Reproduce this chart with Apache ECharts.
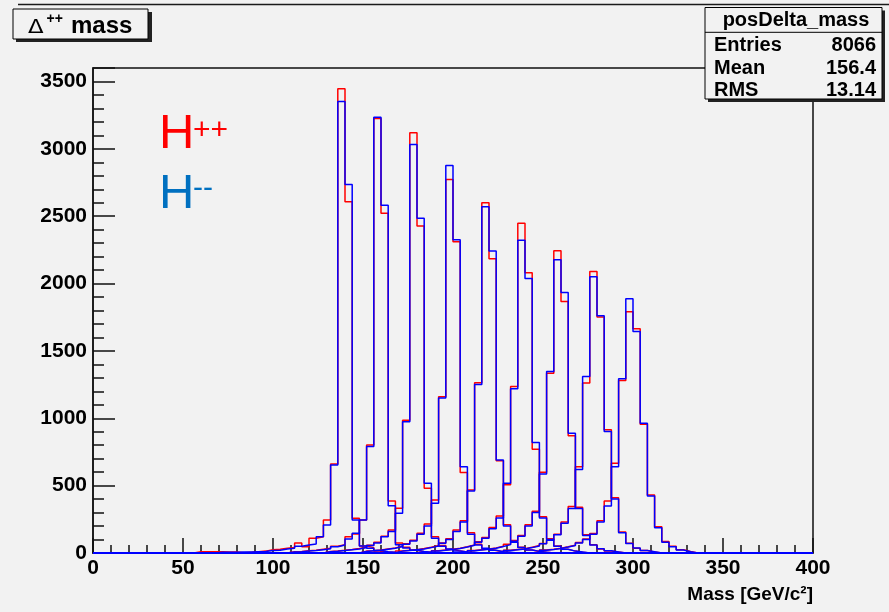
<!DOCTYPE html>
<html>
<head>
<meta charset="utf-8">
<script src="https://cdn.jsdelivr.net/npm/echarts@6/dist/echarts.min.js"></script>
<style>
html,body{margin:0;padding:0;background:#f2f2f2;}
#c{width:889px;height:612px;}
</style>
</head>
<body>
<div id="c"></div>
<script>
// ---- data (4 GeV bins, 0..400 GeV) ----
const binWidth = 4;
const xMin = 0, xMax = 400;
const xTickStep = 50;
const yTickStep = 500;
const masses = [140, 160, 180, 200, 220, 240, 260, 280, 300];
// low edge (GeV) of the first listed bin for each mass point
const redStart  = [56, 108, 128, 148, 168, 188, 208, 228, 248];
const blueStart = [68, 108, 128, 148, 168, 188, 208, 228, 248];

// H++ (red)
const red140 = [10,10,10,10,8,8,2,6,10,14,25,28,36,40,74,47,109,121,245,660,3446,2608,258,52,40,15,8,4,2];
const red160 = [10,12,16,20,28,35,50,62,121,141,245,802,3225,2521,386,75,42,20,10,5,2];
const red180 = [12,15,20,26,33,42,58,80,125,171,332,985,3119,2428,481,121,55,28,14,7,3];
const red200 = [14,17,22,30,38,50,68,95,146,215,394,1160,2772,2311,597,150,65,32,18,9,4];
const red220 = [15,20,25,33,42,55,75,105,170,240,468,1263,2599,2185,685,210,85,42,22,11,5];
const red240 = [16,22,28,36,47,60,84,115,190,275,506,1235,2447,2081,770,270,105,52,27,14,6];
const red260 = [18,24,30,38,50,65,92,130,210,310,600,1335,2244,1867,870,340,135,62,30,15,7];
const red280 = [20,26,32,42,55,70,100,140,230,345,640,1261,2090,1751,914,410,155,72,36,18,8];
const red300 = [22,28,36,46,58,78,104,145,240,386,667,1280,1791,1665,955,430,195,85,50,25,12];

// H-- (blue)
const blue140 = [5,6,6,8,8,10,12,18,20,30,35,50,59,67,121,208,654,3351,2735,245,52,35,18,10,5,2];
const blue160 = [8,10,14,18,25,32,47,60,104,146,245,790,3235,2581,350,62,38,20,12,6,3];
const blue180 = [10,13,18,24,30,40,55,75,120,160,295,975,3032,2484,518,109,50,30,15,8,4];
const blue200 = [12,16,20,28,35,48,65,90,140,200,370,1150,2876,2326,641,140,60,35,20,10,5];
const blue220 = [14,18,24,30,40,52,72,100,160,230,460,1250,2571,2242,691,200,80,40,22,12,6];
const blue240 = [15,20,26,34,45,58,80,110,180,260,518,1220,2321,2038,820,260,100,50,28,14,7];
const blue260 = [16,22,28,36,48,62,88,125,200,300,587,1347,2177,1934,888,330,130,60,32,16,8];
const blue280 = [18,24,30,40,52,68,95,135,220,330,620,1310,2051,1761,902,400,150,70,38,18,9];
const blue300 = [20,26,34,44,56,75,100,140,230,349,640,1293,1887,1645,964,424,188,79,47,22,10];

const redHists  = [red140, red160, red180, red200, red220, red240, red260, red280, red300];
const blueHists = [blue140, blue160, blue180, blue200, blue220, blue240, blue260, blue280, blue300];

const statTitle = 'posDelta_mass';
const statNames = ['Entries', 'Mean', 'RMS'];
const statValues = ['8066', '156.4', '13.14'];

// ---- build histogram outlines ----
function histData(start, vals) {
  const nBins = (xMax - xMin) / binWidth;
  const arr = new Array(nBins).fill(0);
  const i0 = Math.round((start - xMin) / binWidth);
  vals.forEach((v, j) => { if (i0 + j < nBins) arr[i0 + j] = v; });
  const pts = [];
  for (let i = 0; i < nBins; i++) pts.push([xMin + i * binWidth, arr[i]]);
  pts.push([xMax, arr[nBins - 1]]);
  return pts;
}

const series = [];
masses.forEach((m, i) => {
  series.push({
    name: 'H++ ' + m, type: 'line', step: 'end', showSymbol: false, symbol: 'none',
    data: histData(redStart[i], redHists[i]), z: 3,
    lineStyle: { color: '#ff0000', width: 1.5 }, animation: false
  });
});
masses.forEach((m, i) => {
  series.push({
    name: 'H-- ' + m, type: 'line', step: 'end', showSymbol: false, symbol: 'none',
    data: histData(blueStart[i], blueHists[i]), z: 4,
    lineStyle: { color: '#0000ff', width: 1.5 }, animation: false
  });
});

const FONT = '"Liberation Sans", Arial, Helvetica, sans-serif';
const axisCol = '#111';

const chart = echarts.init(document.getElementById('c'), null, { renderer: 'canvas' });
chart.setOption({
  backgroundColor: '#f2f2f2',
  animation: false,
  grid: { left: 93, right: 76, top: 68, bottom: 59, show: true, borderColor: axisCol, borderWidth: 1.5, backgroundColor: 'transparent' },
  xAxis: {
    type: 'value', min: xMin, max: xMax, interval: xTickStep,
    axisLine: { show: true, lineStyle: { color: axisCol, width: 1.5 } },
    axisTick: { show: true, inside: true, length: 15, lineStyle: { color: axisCol, width: 1.5 } },
    minorTick: { show: true, splitNumber: 5, length: 8, lineStyle: { color: axisCol, width: 1.5 } },
    splitLine: { show: false },
    axisLabel: { color: '#000', fontFamily: FONT, fontWeight: 'bold', fontSize: 21, margin: 5 }
  },
  yAxis: [{
    type: 'value', min: 0, max: 3600, interval: yTickStep,
    axisLine: { show: true, lineStyle: { color: axisCol, width: 1.5 } },
    axisTick: { show: true, inside: true, length: 22, lineStyle: { color: axisCol, width: 1.5 } },
    splitLine: { show: false },
    axisLabel: { color: '#000', fontFamily: FONT, fontWeight: 'bold', fontSize: 21, margin: 6,
      formatter: v => (v % yTickStep === 0 ? String(v) : '') }
  }, {
    type: 'value', min: 0, max: 3600, interval: 100, position: 'left',
    axisLine: { show: false },
    axisTick: { show: true, inside: true, length: 11, lineStyle: { color: axisCol, width: 1.5 } },
    splitLine: { show: false },
    axisLabel: { show: false }
  }],
  series: series,
  graphic: [
    { type: 'line', shape: { x1: 18, y1: 4.5, x2: 889, y2: 4.5 }, style: { stroke: '#1a1a1a', lineWidth: 1.5 }, z: 10 },
    // title box
    { type: 'rect', shape: { x: 16, y: 12, width: 136, height: 30 }, style: { fill: '#222' }, z: 10 },
    { type: 'rect', shape: { x: 13, y: 9, width: 135, height: 30 }, style: { fill: '#f2f2f2', stroke: '#000', lineWidth: 1 }, z: 11 },
    { type: 'text', x: 28, y: 28, scaleX: 1.2, style: { text: 'Δ', font: 'normal 19px "DejaVu Sans", sans-serif', fill: '#000', textVerticalAlign: 'middle' }, z: 12 },
    { type: 'text', x: 46.5, y: 19, style: { text: '++', font: 'bold 14px ' + FONT, fill: '#000', textVerticalAlign: 'middle' }, z: 12 },
    { type: 'text', x: 71, y: 26.7, style: { text: 'mass', font: 'bold 24px ' + FONT, fill: '#000', textVerticalAlign: 'middle' }, z: 12 },
    // stats box
    { type: 'rect', shape: { x: 708, y: 10.5, width: 177, height: 91.5 }, style: { fill: '#222' }, z: 10 },
    { type: 'rect', shape: { x: 705, y: 7.5, width: 177, height: 91.5 }, style: { fill: '#f2f2f2', stroke: '#000', lineWidth: 1 }, z: 11 },
    { type: 'line', shape: { x1: 705, y1: 32.3, x2: 882, y2: 32.3 }, style: { stroke: '#000', lineWidth: 1 }, z: 12 },
    { type: 'text', x: 796, y: 20.5, style: { text: statTitle, font: 'bold 20px ' + FONT, fill: '#000', textAlign: 'center', textVerticalAlign: 'middle' }, z: 12 },
    { type: 'text', x: 714, y: 45, style: { text: statNames[0], font: 'bold 20px ' + FONT, fill: '#000', textVerticalAlign: 'middle' }, z: 12 },
    { type: 'text', x: 876, y: 45, style: { text: statValues[0], font: 'bold 20px ' + FONT, fill: '#000', textAlign: 'right', textVerticalAlign: 'middle' }, z: 12 },
    { type: 'text', x: 714, y: 68, style: { text: statNames[1], font: 'bold 20px ' + FONT, fill: '#000', textVerticalAlign: 'middle' }, z: 12 },
    { type: 'text', x: 876, y: 68, style: { text: statValues[1], font: 'bold 20px ' + FONT, fill: '#000', textAlign: 'right', textVerticalAlign: 'middle' }, z: 12 },
    { type: 'text', x: 714, y: 90.5, style: { text: statNames[2], font: 'bold 20px ' + FONT, fill: '#000', textVerticalAlign: 'middle' }, z: 12 },
    { type: 'text', x: 876, y: 90.5, style: { text: statValues[2], font: 'bold 20px ' + FONT, fill: '#000', textAlign: 'right', textVerticalAlign: 'middle' }, z: 12 },
    // legend-like labels
    { type: 'text', x: 159, y: 134.5, style: { text: 'H', font: 'normal 49px ' + FONT, fill: '#ff0000', textVerticalAlign: 'middle' }, z: 12 },
    { type: 'text', x: 193, y: 131, style: { text: '++', font: 'normal 30px ' + FONT, fill: '#ff0000', textVerticalAlign: 'middle' }, z: 12 },
    { type: 'text', x: 159, y: 194.5, style: { text: 'H', font: 'normal 49px ' + FONT, fill: '#0070c0', textVerticalAlign: 'middle' }, z: 12 },
    { type: 'text', x: 193, y: 188.5, style: { text: '--', font: 'normal 30px ' + FONT, fill: '#0070c0', textVerticalAlign: 'middle' }, z: 12 },
    // x axis title
    { type: 'text', x: 813, y: 595, style: { text: 'Mass [GeV/c²]', font: 'bold 19px ' + FONT, fill: '#000', textAlign: 'right', textVerticalAlign: 'middle' }, z: 12 }
  ]
});
</script>
</body>
</html>
